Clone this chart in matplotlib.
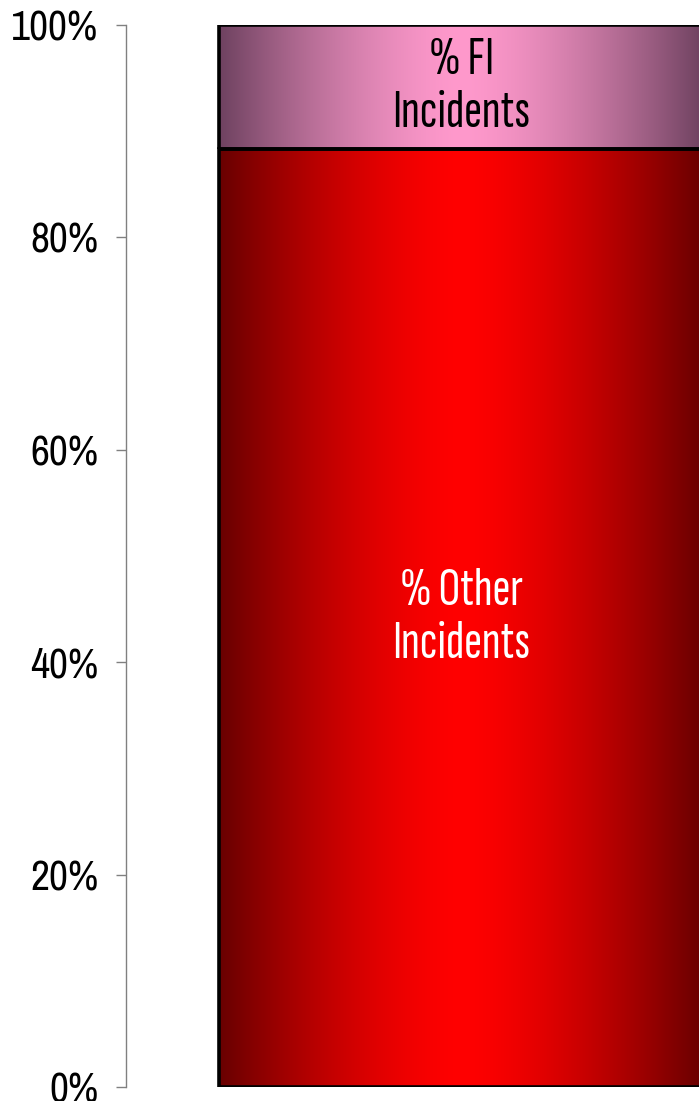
import numpy as np
import matplotlib.pyplot as plt
from matplotlib.colors import to_rgb
from matplotlib.ticker import PercentFormatter

plt.rcParams['font.family'] = ['Archivo Narrow', 'DejaVu Sans']
label_font = ['Sofia Sans Extra Condensed', 'DejaVu Sans']

# data
categories = ['Incidents']
pct_other = [88.3]
pct_fi = [11.7]
labels = ['% Other\nIncidents', '% FI\nIncidents']

# gradient colours (edge, centre)
red_edge, red_mid = '#680000', '#ff0000'
pink_edge, pink_mid = '#6e4260', '#ff99cc'


def gradient_fill(ax, patch, edge, mid, n=256):
    # dark at both sides, bright in the middle of the bar
    x0, y0 = patch.get_x(), patch.get_y()
    x1, y1 = x0 + patch.get_width(), y0 + patch.get_height()
    t = 1 - np.abs(np.linspace(-1, 1, n)) ** 1.5
    e, m = np.array(to_rgb(edge)), np.array(to_rgb(mid))
    img = e[None, :] + (m - e)[None, :] * t[:, None]
    im = ax.imshow(img[None, :, :], extent=[x0, x1, y0, y1], aspect='auto',
                   interpolation='bilinear', zorder=1)
    im.set_clip_path(patch)


fig = plt.figure(figsize=(6.99, 11.01), dpi=100)
ax = fig.add_axes([126 / 699, 14 / 1101, 573 / 699, 1062 / 1101])

x = np.arange(len(categories))
bars_other = ax.bar(x, pct_other, width=0.8, facecolor='none',
                    edgecolor='black', linewidth=2.6, zorder=2)
bars_fi = ax.bar(x, pct_fi, bottom=pct_other, width=0.8, facecolor='none',
                 edgecolor='black', linewidth=2.6, zorder=2)

for p in bars_other:
    gradient_fill(ax, p, red_edge, red_mid)
for p in bars_fi:
    gradient_fill(ax, p, pink_edge, pink_mid)

ax.text(x[0], pct_other[0] / 2, labels[0], ha='center', va='center',
        color='white', fontsize=39, family=label_font, linespacing=1.15, zorder=3)
ax.text(x[0], pct_other[0] + pct_fi[0] / 2, labels[1], ha='center', va='center',
        color='black', fontsize=39, family=label_font, linespacing=1.15, zorder=3)

ax.set_xlim(-0.554, 0.393)
ax.set_ylim(0, 100)
ax.set_yticks([0, 20, 40, 60, 80, 100])
ax.yaxis.set_major_formatter(PercentFormatter(decimals=0))
ax.tick_params(axis='y', direction='out', length=7, width=1, color='#808080',
               labelsize=30, pad=13)
ax.set_xticks([])
for s in ['top', 'right', 'bottom']:
    ax.spines[s].set_visible(False)
ax.spines['left'].set_color('#808080')
ax.spines['left'].set_linewidth(1)
ax.patch.set_alpha(0)

fig.savefig('out.png', dpi=100)
